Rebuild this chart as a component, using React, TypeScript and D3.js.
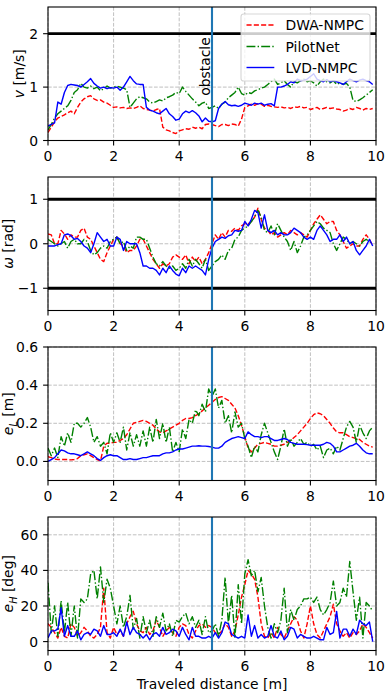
import React from "react";
import * as d3 from "d3";

// ---------- data (sampled every 0.1 m of traveled distance) ----------
const DIST = d3.range(100).map((i) => +(i * 0.1).toFixed(1));
const SERIES = ["DWA-NMPC", "PilotNet", "LVD-NMPC"];
const X_TICKS = [0, 2, 4, 6, 8, 10];
const OBSTACLE_X = 5;

const V_DWA = [0.15,0.25,0.35,0.42,0.45,0.48,0.52,0.55,0.5,0.62,
0.72,0.78,0.82,0.84,0.78,0.75,0.76,0.72,0.7,0.66,
0.62,0.63,0.61,0.62,0.6,0.61,0.6,0.62,0.65,0.6,
0.58,0.57,0.55,0.58,0.6,0.25,0.2,0.18,0.15,0.13,
0.18,0.2,0.22,0.21,0.25,0.23,0.25,0.22,0.3,0.31,
0.3,0.28,0.26,0.3,0.3,0.28,0.31,0.3,0.27,0.4,
0.62,0.65,0.68,0.66,0.69,0.68,0.64,0.66,0.64,0.63,
0.62,0.63,0.61,0.62,0.6,0.63,0.62,0.64,0.61,0.62,
0.58,0.6,0.62,0.58,0.6,0.62,0.6,0.61,0.59,0.58,
0.55,0.57,0.6,0.58,0.62,0.6,0.57,0.6,0.58,0.6];
const V_PN = [0.2,0.3,0.42,0.5,0.55,0.6,0.65,0.75,0.9,0.95,
1.07,1.0,0.98,1.02,0.97,1.0,0.93,0.97,1.02,0.98,
1.0,1.02,1.0,0.98,0.95,0.62,0.7,0.78,0.82,0.8,
0.78,0.72,0.7,0.73,0.76,0.74,0.8,0.82,0.85,0.9,
0.88,1.0,0.92,0.85,0.78,0.72,0.65,0.7,0.72,0.6,
0.62,0.65,0.6,0.68,0.72,0.8,0.85,0.9,1.0,0.88,
0.85,0.9,0.88,0.93,0.95,0.98,1.0,1.05,1.1,1.15,
1.05,1.08,1.12,1.05,1.0,1.1,1.08,1.12,1.15,1.1,
1.12,1.08,1.02,1.1,1.15,1.1,1.08,1.12,1.05,1.08,
1.05,1.07,1.0,0.75,0.73,0.76,0.8,0.85,0.9,0.95];
const V_LVD = [0.27,0.3,0.33,0.72,0.68,0.9,1.03,1.05,1.04,1.03,
1.0,1.05,1.1,1.16,1.07,1.02,0.98,1.0,0.97,0.99,
0.98,1.0,0.94,1.0,1.1,1.2,1.12,1.06,1.05,1.05,
0.62,0.57,0.55,0.52,0.5,0.55,0.6,0.5,0.45,0.38,
0.4,0.5,0.55,0.52,0.56,0.52,0.46,0.35,0.42,0.36,
0.35,0.37,0.6,0.68,0.73,0.67,0.65,0.66,0.64,0.66,
0.7,0.68,0.66,0.7,0.68,0.7,0.66,0.68,0.69,0.65,
1.0,1.0,1.02,1.05,1.1,1.08,1.15,1.12,1.13,1.15,
1.2,1.25,1.15,1.12,1.1,1.14,1.1,1.12,1.1,1.08,
1.05,1.1,1.15,1.12,1.1,1.13,1.15,1.12,1.1,1.05];

const W_DWA = [0.22,0.2,0.0,0.0,0.3,0.22,0.1,0.2,0.15,0.15,
0.3,0.35,0.15,0.1,-0.05,-0.2,-0.35,-0.4,-0.2,-0.05,
0.1,0.15,0.0,-0.05,-0.2,-0.15,-0.15,-0.05,0.1,0.1,
-0.05,-0.2,-0.35,-0.45,-0.55,-0.45,-0.5,-0.45,-0.3,-0.25,
-0.3,-0.35,-0.25,-0.45,-0.3,-0.4,-0.3,-0.45,-0.35,-0.2,
0.0,0.2,0.1,0.25,0.15,0.3,0.28,0.35,0.3,0.4,
0.45,0.45,0.5,0.6,0.8,0.55,0.35,0.3,0.2,0.25,
0.15,0.2,0.25,0.2,0.3,0.25,0.2,0.25,0.2,0.15,
0.3,0.45,0.55,0.65,0.55,0.45,0.5,0.5,0.3,0.2,
0.05,-0.1,-0.05,0.0,-0.05,-0.05,0.1,0.2,0.1,-0.05];
const W_PN = [0.1,0.05,0.0,-0.05,0.0,0.05,-0.1,0.05,0.1,0.0,
0.0,0.1,0.05,-0.15,-0.25,-0.2,-0.1,-0.05,-0.1,0.05,
0.1,0.15,0.0,0.05,-0.15,-0.05,-0.1,0.15,0.15,0.1,
0.1,-0.1,-0.3,-0.45,-0.5,-0.4,-0.5,-0.55,-0.5,-0.6,
-0.55,-0.45,-0.55,-0.35,-0.5,-0.35,-0.45,-0.55,-0.35,-0.6,
-0.5,-0.4,-0.35,-0.25,-0.35,-0.15,-0.1,0.1,0.15,0.3,
0.35,0.4,0.5,0.6,0.75,0.6,0.3,0.25,0.4,0.2,
0.45,0.3,0.15,0.05,-0.15,0.05,-0.2,-0.05,0.15,0.2,
0.3,0.4,0.5,0.45,0.35,0.3,0.25,0.0,-0.15,0.0,
0.15,0.1,0.0,0.05,0.0,-0.05,0.05,0.1,0.05,0.0];
const W_LVD = [-0.05,-0.05,-0.05,-0.02,0.0,0.2,0.22,0.18,0.1,0.12,
0.05,-0.05,-0.1,-0.2,0.0,0.25,0.15,0.05,0.1,-0.05,
-0.05,0.15,0.1,-0.15,0.05,0.0,0.0,0.0,-0.2,-0.5,
-0.5,-0.55,-0.55,-0.6,-0.7,-0.55,-0.65,-0.5,-0.6,-0.68,
-0.72,-0.55,-0.65,-0.5,-0.55,-0.5,-0.55,-0.6,-0.7,-0.35,
-0.1,0.05,0.1,0.15,0.12,0.18,0.2,0.3,0.28,0.3,
0.5,0.4,0.55,0.75,0.7,0.35,0.65,0.3,0.25,0.3,
0.2,0.25,0.2,0.2,0.25,0.35,0.3,0.25,0.15,0.1,
0.15,0.1,0.3,0.4,0.3,0.2,0.05,0.1,0.1,0.2,
0.05,0.15,0.0,0.05,-0.15,-0.25,-0.15,-0.05,0.1,-0.05];

const EL_DWA = [0.025,0.02,0.012,0.01,0.01,0.01,0.01,0.008,0.01,0.015,
0.03,0.035,0.04,0.03,0.02,0.01,0.003,0.08,0.095,0.095,
0.1,0.1,0.11,0.12,0.14,0.17,0.2,0.205,0.21,0.215,
0.21,0.2,0.19,0.17,0.155,0.15,0.16,0.17,0.18,0.19,
0.2,0.215,0.225,0.225,0.23,0.24,0.25,0.265,0.28,0.295,
0.31,0.325,0.335,0.34,0.33,0.32,0.3,0.28,0.24,0.19,
0.13,0.07,0.05,0.07,0.09,0.095,0.1,0.095,0.09,0.08,
0.08,0.085,0.09,0.1,0.11,0.125,0.14,0.16,0.18,0.2,
0.225,0.245,0.255,0.25,0.24,0.22,0.2,0.175,0.155,0.15,
0.15,0.14,0.13,0.125,0.12,0.115,0.1,0.09,0.08,0.075];
const EL_PN = [0.07,0.03,0.07,0.02,0.13,0.08,0.15,0.1,0.2,0.2,
0.18,0.2,0.23,0.18,0.1,0.13,0.08,0.1,0.04,0.15,
0.1,0.15,0.1,0.18,0.06,0.15,0.08,0.14,0.08,0.16,
0.08,0.18,0.1,0.22,0.12,0.2,0.1,0.18,0.05,0.1,
0.05,0.17,0.12,0.22,0.2,0.27,0.24,0.3,0.26,0.38,
0.34,0.38,0.28,0.32,0.2,0.24,0.15,0.26,0.18,0.2,
0.12,0.08,0.02,0.08,0.05,0.14,0.2,0.15,0.1,0.05,
0.01,0.08,0.17,0.08,0.12,0.08,0.1,0.12,0.09,0.1,
0.08,0.09,0.06,0.08,0.02,0.06,0.07,0.04,0.08,0.06,
0.12,0.18,0.21,0.18,0.1,0.19,0.15,0.12,0.16,0.18];
const EL_LVD = [0.0,0.01,0.02,0.04,0.06,0.055,0.045,0.04,0.04,0.035,
0.03,0.04,0.05,0.04,0.03,0.015,0.005,0.02,0.03,0.035,
0.03,0.03,0.02,0.01,0.01,0.015,0.01,0.01,0.015,0.02,
0.02,0.025,0.03,0.03,0.03,0.04,0.045,0.045,0.05,0.06,
0.065,0.065,0.07,0.075,0.08,0.08,0.082,0.08,0.08,0.078,
0.075,0.07,0.07,0.08,0.1,0.11,0.12,0.125,0.13,0.125,
0.12,0.155,0.14,0.13,0.13,0.125,0.13,0.13,0.12,0.11,
0.11,0.115,0.12,0.115,0.1,0.095,0.09,0.09,0.09,0.088,
0.085,0.085,0.085,0.085,0.09,0.1,0.095,0.08,0.05,0.05,
0.06,0.07,0.08,0.085,0.095,0.08,0.06,0.045,0.04,0.04];

const EH_DWA = [10,8,5,2,8,3,2,10,8,3,
5,8,6,3,2,4,8,30,5,2,
8,4,6,3,10,14,17,10,6,5,
8,4,6,12,8,3,6,8,5,3,
8,10,9,4,2,6,9,10,8,9,
8,5,4,6,10,8,3,6,15,25,
32,40,38,35,25,10,3,2,5,2,
8,4,2,6,10,14,12,6,2,10,
20,10,4,2,6,10,14,21,10,6,
3,5,2,5,4,6,10,8,5,2];
const EH_PN = [33,5,20,3,23,5,22,3,20,2,
24,22,24,38,40,24,42,22,35,30,
20,10,20,8,14,26,7,13,2,14,
5,12,3,14,8,16,6,10,3,12,
11,14,16,10,14,8,12,4,14,5,
6,10,3,12,36,10,26,2,32,10,
38,46,37,40,28,36,20,8,2,10,
5,12,30,5,18,12,18,20,24,24,
25,22,25,18,15,18,22,34,20,22,
30,25,45,28,12,25,2,22,20,17];
const EH_LVD = [2,6,6,7,19,3,9,3,3,6,
1,4,5,4,7,6,3,9,4,4,
5,3,7,3,11,4,8,5,4,2,
4,1,4,5,3,8,4,5,7,6,
3,8,4,1,8,3,3,2,2,3,
2,5,2,5,11,10,4,3,2,3,
2,15,3,9,2,4,2,3,9,3,
2,6,1,3,8,7,2,4,3,2,
2,3,2,1,1,8,4,5,17,2,
7,7,3,7,4,12,10,9,11,0];

// ---------- styles ----------
const COLORS = ["#ff0000", "#008000", "#0000ff"];
const DASHES = ["5.1,2.2", "8.9,2.2,1.4,2.2", null];
const FONT = "'DejaVu Sans', sans-serif";
const FS = 13.9;

type LabelPart = { t: string; i?: boolean; sub?: boolean };
type Panel = {
  data: number[][];
  domain: [number, number];
  ticks: number[];
  fmt: (v: number) => string;
  label: LabelPart[];
  hlines: number[];
};

const fmtInt = (v: number) => (v < 0 ? "\u2212" + Math.abs(v) : String(v));
const PANELS: Panel[] = [
  { data: [V_DWA, V_PN, V_LVD], domain: [0, 2.5], ticks: [0, 1, 2], fmt: fmtInt,
    label: [{ t: "v", i: true }, { t: " [m/s]" }], hlines: [2] },
  { data: [W_DWA, W_PN, W_LVD], domain: [-1.5, 1.5], ticks: [-1, 0, 1], fmt: fmtInt,
    label: [{ t: "\u03c9", i: true }, { t: " [rad]" }], hlines: [-1, 1] },
  { data: [EL_DWA, EL_PN, EL_LVD], domain: [-0.1, 0.6], ticks: [0, 0.2, 0.4, 0.6],
    fmt: (v) => v.toFixed(1),
    label: [{ t: "e", i: true }, { t: "L", i: true, sub: true }, { t: " [m]" }], hlines: [] },
  { data: [EH_DWA, EH_PN, EH_LVD], domain: [-5, 70], ticks: [0, 20, 40, 60], fmt: fmtInt,
    label: [{ t: "e", i: true }, { t: "H", i: true, sub: true }, { t: " [deg]" }], hlines: [] },
];

const LEFT = 48;
const RIGHT = 376;
const TOPS = [7, 177, 347, 517];
const H = 133.5;
const LABEL_X = [24, 13, 13, 13];

function renderLabel(parts: LabelPart[]) {
  const out: React.ReactNode[] = [];
  let shifted = false;
  parts.forEach((p, k) => {
    let dy: number | undefined;
    if (p.sub && !shifted) { dy = 3.5; shifted = true; }
    else if (!p.sub && shifted) { dy = -3.5; shifted = false; }
    out.push(
      <tspan key={k} dy={dy} fontStyle={p.i ? "italic" : "normal"} fontSize={p.sub ? FS * 0.7 : FS}>
        {p.t}
      </tspan>
    );
  });
  return out;
}

function PanelView({ panel, idx }: { panel: Panel; idx: number }) {
  const top = TOPS[idx];
  const bottom = top + H;
  const x = d3.scaleLinear().domain([0, 10]).range([LEFT, RIGHT]);
  const y = d3.scaleLinear().domain(panel.domain).range([bottom, top]);
  const line = d3.line<number>().x((_, i) => x(DIST[i])).y((d) => y(d));
  const clipId = `clip${idx}`;
  return (
    <g>
      <defs>
        <clipPath id={clipId}>
          <rect x={LEFT} y={top} width={RIGHT - LEFT} height={H} />
        </clipPath>
      </defs>
      {/* grid */}
      <g stroke="#b0b0b0" strokeWidth={0.8} strokeDasharray="3.7,1.6">
        {X_TICKS.map((t) => (
          <line key={"gx" + t} x1={x(t)} x2={x(t)} y1={top} y2={bottom} />
        ))}
        {panel.ticks.map((t) => (
          <line key={"gy" + t} x1={LEFT} x2={RIGHT} y1={y(t)} y2={y(t)} />
        ))}
      </g>
      {/* data */}
      <g clipPath={`url(#${clipId})`} fill="none">
        {panel.data.map((s, k) => (
          <path key={k} d={line(s) || ""} stroke={COLORS[k]} strokeWidth={1.4}
            strokeDasharray={DASHES[k] || undefined} strokeLinejoin="round" />
        ))}
        {panel.hlines.map((h) => (
          <line key={"h" + h} x1={LEFT} x2={RIGHT} y1={y(h)} y2={y(h)} stroke="#000" strokeWidth={2.8} />
        ))}
        <line x1={x(OBSTACLE_X)} x2={x(OBSTACLE_X)} y1={top} y2={bottom} stroke="#1f77b4" strokeWidth={2.1} />
      </g>
      {/* frame */}
      <rect x={LEFT} y={top} width={RIGHT - LEFT} height={H} fill="none" stroke="#000" strokeWidth={1.1} />
      {/* ticks */}
      <g stroke="#000" strokeWidth={1.1}>
        {X_TICKS.map((t) => (
          <line key={"tx" + t} x1={x(t)} x2={x(t)} y1={bottom} y2={bottom + 4.9} />
        ))}
        {panel.ticks.map((t) => (
          <line key={"ty" + t} x1={LEFT - 4.9} x2={LEFT} y1={y(t)} y2={y(t)} />
        ))}
      </g>
      <g fontFamily={FONT} fontSize={FS} fill="#000">
        {X_TICKS.map((t) => (
          <text key={"lx" + t} x={x(t)} y={bottom + 20.5} textAnchor="middle">{t}</text>
        ))}
        {panel.ticks.map((t) => (
          <text key={"ly" + t} x={LEFT - 9.8} y={y(t) + 5} textAnchor="end">{panel.fmt(t)}</text>
        ))}
        <text transform={`translate(${LABEL_X[idx]},${(top + bottom) / 2}) rotate(-90)`} textAnchor="middle">
          {renderLabel(panel.label)}
        </text>
      </g>
    </g>
  );
}

function Legend() {
  const x0 = 241, y0 = 14, w = 129, h = 67;
  const rows = [25, 46.5, 67.5];
  return (
    <g>
      <rect x={x0} y={y0} width={w} height={h} rx={2.8} fill="#fff" fillOpacity={0.8} stroke="#cccccc" strokeOpacity={0.8} strokeWidth={1.1} />
      {SERIES.map((s, k) => (
        <g key={s}>
          <line x1={246.5} x2={274.3} y1={rows[k]} y2={rows[k]} stroke={COLORS[k]} strokeWidth={1.4}
            strokeDasharray={DASHES[k] || undefined} />
          <text x={285.5} y={rows[k] + 5} fontFamily={FONT} fontSize={FS}>{s}</text>
        </g>
      ))}
    </g>
  );
}

export default function App() {
  const xs = d3.scaleLinear().domain([0, 10]).range([LEFT, RIGHT]);
  return (
    <svg width={386} height={700} style={{ position: "absolute", left: 0, top: 0, background: "#fff" }}
      xmlns="http://www.w3.org/2000/svg">
      <rect width={386} height={700} fill="#fff" />
      {PANELS.map((p, i) => (
        <PanelView key={i} panel={p} idx={i} />
      ))}
      <text transform={`translate(${xs(OBSTACLE_X) - 2},66.5) rotate(-90)`} textAnchor="middle"
        fontFamily={FONT} fontSize={FS}>obstacle</text>
      <Legend />
      <text x={(LEFT + RIGHT) / 2} y={688.5} textAnchor="middle" fontFamily={FONT} fontSize={FS}>
        Traveled distance [m]
      </text>
    </svg>
  );
}
